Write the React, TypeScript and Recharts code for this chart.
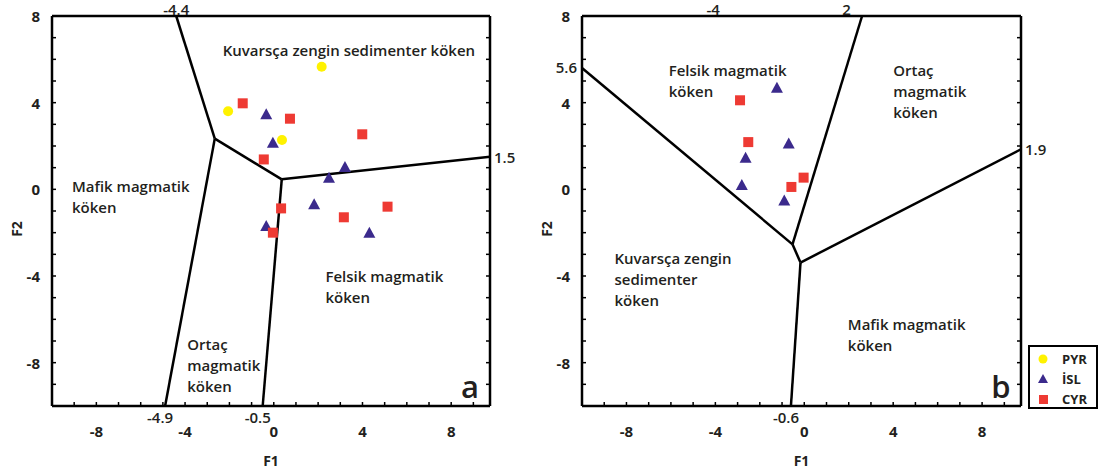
import {
  Legend,
  ReferenceDot,
  ReferenceLine,
  Scatter,
  ScatterChart,
  XAxis,
  YAxis,
} from "recharts";

type Pt = { x: number; y: number };

// discriminant function scores, diagram a
const pyrA: Pt[] = [
  { x: 2.16, y: 5.66 },
  { x: -2.06, y: 3.6 },
  { x: 0.37, y: 2.28 },
];
const islA: Pt[] = [
  { x: -0.34, y: 3.46 },
  { x: -0.04, y: 2.15 },
  { x: 3.21, y: 1.03 },
  { x: 2.49, y: 0.54 },
  { x: 1.82, y: -0.69 },
  { x: -0.34, y: -1.69 },
  { x: 4.31, y: -2.0 },
];
const cyrA: Pt[] = [
  { x: -1.4, y: 3.97 },
  { x: 0.73, y: 3.26 },
  { x: 3.99, y: 2.54 },
  { x: -0.45, y: 1.38 },
  { x: 0.33, y: -0.88 },
  { x: 5.13, y: -0.8 },
  { x: 3.16, y: -1.29 },
  { x: -0.04, y: -2.0 },
];

// diagram b
const islB: Pt[] = [
  { x: -1.23, y: 4.69 },
  { x: -0.7, y: 2.12 },
  { x: -2.64, y: 1.46 },
  { x: -2.81, y: 0.2 },
  { x: -0.9, y: -0.51 },
];
const cyrB: Pt[] = [
  { x: -2.89, y: 4.11 },
  { x: -2.52, y: 2.18 },
  { x: -0.58, y: 0.11 },
  { x: -0.03, y: 0.54 },
];

// field boundaries (edge intercepts and junctions)
const boundsA: [Pt, Pt][] = [
  [{ x: -4.4, y: 8 }, { x: -2.66, y: 2.34 }],
  [{ x: -2.66, y: 2.34 }, { x: -4.9, y: -10 }],
  [{ x: -2.66, y: 2.34 }, { x: 0.36, y: 0.46 }],
  [{ x: 0.36, y: 0.46 }, { x: 9.75, y: 1.5 }],
  [{ x: 0.36, y: 0.46 }, { x: -0.5, y: -10 }],
];
const boundsB: [Pt, Pt][] = [
  [{ x: -10, y: 5.6 }, { x: -0.53, y: -2.54 }],
  [{ x: -0.53, y: -2.54 }, { x: 2.6, y: 8 }],
  [{ x: -0.53, y: -2.54 }, { x: -0.17, y: -3.38 }],
  [{ x: -0.17, y: -3.38 }, { x: 9.75, y: 1.85 }],
  [{ x: -0.17, y: -3.38 }, { x: -0.6, y: -10 }],
];

type Region = { x: number; y: number; lines: string[] };
const regionsA: Region[] = [
  { x: -2.3, y: 6.45, lines: ["Kuvarsça zengin sedimenter köken"] },
  { x: -9.1, y: 0.14, lines: ["Mafik magmatik", "köken"] },
  { x: 2.33, y: -4.0, lines: ["Felsik magmatik", "köken"] },
  { x: -3.9, y: -7.14, lines: ["Ortaç", "magmatik", "köken"] },
];
const regionsB: Region[] = [
  { x: -6.1, y: 5.49, lines: ["Felsik magmatik", "köken"] },
  { x: 4.0, y: 5.49, lines: ["Ortaç", "magmatik", "köken"] },
  { x: -8.54, y: -3.15, lines: ["Kuvarsça zengin", "sedimenter", "köken"] },
  { x: 1.96, y: -6.23, lines: ["Mafik magmatik", "köken"] },
];

type EdgeLabel = { x: number; y: number; text: string; side: "top" | "bottom" | "left" | "right" };
const edgeA: EdgeLabel[] = [
  { x: -4.4, y: 8, text: "-4.4", side: "top" },
  { x: 9.75, y: 1.5, text: "1.5", side: "right" },
  { x: -4.9, y: -10, text: "-4.9", side: "bottom" },
  { x: -0.5, y: -10, text: "-0.5", side: "bottom" },
];
const edgeB: EdgeLabel[] = [
  { x: -4.1, y: 8, text: "-4", side: "top" },
  { x: 1.9, y: 8, text: "2", side: "top" },
  { x: -10, y: 5.65, text: "5.6", side: "left" },
  { x: 9.75, y: 1.85, text: "1.9", side: "right" },
  { x: -0.6, y: -10, text: "-0.6", side: "bottom" },
];

const xTicks = [-10, -9, -8, -7, -6, -5, -4, -3, -2, -1, 0, 1, 2, 3, 4, 5, 6, 7, 8, 9];
const yTicks = [-10, -9, -8, -7, -6, -5, -4, -3, -2, -1, 0, 1, 2, 3, 4, 5, 6, 7, 8];
const labelled = [-8, -4, 0, 4, 8];

const COLORS = { PYR: "#FFF200", ISL: "#3B2A8C", CYR: "#EE3A33" };
const INK = "#231F20";
const FONT = "'Open Sans', 'Noto Sans', sans-serif";

const circle = (p: any) => <circle cx={p.cx} cy={p.cy} r={5} fill={COLORS.PYR} />;
const triangle = (p: any) => (
  <polygon
    points={`${p.cx},${p.cy - 6} ${p.cx - 6},${p.cy + 5} ${p.cx + 6},${p.cy + 5}`}
    fill={COLORS.ISL}
  />
);
const square = (p: any) => <rect x={p.cx - 5} y={p.cy - 5} width={10} height={10} fill={COLORS.CYR} />;

// only every fourth unit carries a number
const tickText = (v: number) => (labelled.includes(v) ? String(v) : "");

const BottomTick = (p: any) => (
  <text x={p.x} y={p.y + 5} textAnchor="middle" dominantBaseline="central" fill={INK} fontSize={15} fontWeight={700}>
    {tickText(p.payload.value)}
  </text>
);
const LeftTick = (p: any) => (
  <text x={p.x} y={p.y} textAnchor="end" dominantBaseline="central" fill={INK} fontSize={15} fontWeight={700}>
    {tickText(p.payload.value)}
  </text>
);

const regionShape = (lines: string[]) => (p: any) => (
  <text x={p.cx} y={p.cy} fill={INK} fontSize={15} fontWeight={600} dominantBaseline="central">
    {lines.map((l, i) => (
      <tspan key={i} x={p.cx} dy={i === 0 ? 0 : 21}>
        {l}
      </tspan>
    ))}
  </text>
);

const edgeShape = (e: EdgeLabel) => (p: any) => {
  let x = p.cx;
  let y = p.cy;
  let anchor: "start" | "middle" | "end" = "middle";
  if (e.side === "top") y -= 7;
  if (e.side === "bottom") {
    // nudged left so it clears the axis tick label underneath
    x -= 5;
    y += 11;
  }
  if (e.side === "right") {
    x += 4;
    anchor = "start";
  }
  if (e.side === "left") {
    x -= 5;
    anchor = "end";
  }
  return (
    <text x={x} y={y} textAnchor={anchor} dominantBaseline="central" fill={INK} fontSize={15} fontWeight={600}>
      {e.text}
    </text>
  );
};

const cornerShape = (letter: string) => (p: any) => (
  <text x={p.cx} y={p.cy} textAnchor="middle" dominantBaseline="central" fill={INK} fontSize={31} fontWeight={600}>
    {letter}
  </text>
);

const xTitle = (p: any) => {
  const vb = p.viewBox;
  return (
    <text x={vb.x + vb.width / 2} y={vb.y + vb.height + 14} textAnchor="middle" dominantBaseline="central" fill={INK} fontSize={14} fontWeight={700}>
      F1
    </text>
  );
};
const yTitle = (p: any) => {
  const vb = p.viewBox;
  const x = vb.x + vb.width - 36;
  const y = vb.y + vb.height / 2 + 18;
  return (
    <text x={x} y={y} transform={`rotate(-90, ${x}, ${y})`} textAnchor="middle" dominantBaseline="central" fill={INK} fontSize={14} fontWeight={700}>
      F2
    </text>
  );
};

const legendItems = [
  { name: "PYR", shape: "circle" },
  { name: "İSL", shape: "triangle" },
  { name: "CYR", shape: "square" },
];

const LegendBox = () => (
  <div
    style={{
      width: 70,
      height: 64,
      boxSizing: "border-box",
      border: "2px solid #000",
      background: "#fff",
      padding: "2px 0 0 0",
      fontFamily: FONT,
    }}
  >
    {legendItems.map((it) => (
      <div key={it.name} style={{ display: "flex", alignItems: "center", height: 20 }}>
        <svg width={26} height={20}>
          {it.shape === "circle" && <circle cx={13} cy={10} r={4.5} fill={COLORS.PYR} />}
          {it.shape === "triangle" && <polygon points="13,5 8,14 18,14" fill={COLORS.ISL} />}
          {it.shape === "square" && <rect x={9} y={6} width={9} height={9} fill={COLORS.CYR} />}
        </svg>
        <span style={{ marginLeft: 6, fontSize: 13, fontWeight: 700, color: INK }}>{it.name}</span>
      </div>
    ))}
  </div>
);

type PanelProps = {
  left: number;
  width: number;
  margin: { top: number; right: number; bottom: number; left: number };
  yAxisWidth: number;
  letter: string;
  pyr: Pt[];
  isl: Pt[];
  cyr: Pt[];
  bounds: [Pt, Pt][];
  regions: Region[];
  edges: EdgeLabel[];
  legendLeft?: number;
};

function Panel(props: PanelProps) {
  const { left, width, margin, yAxisWidth, letter, pyr, isl, cyr, bounds, regions, edges, legendLeft } = props;
  const axisLine = { stroke: "#000", strokeWidth: 2.5 };
  const tickLine = { stroke: "#000", strokeWidth: 1.5 };
  return (
    <div style={{ position: "absolute", left, top: 0 }}>
      <ScatterChart width={width} height={474} margin={margin}>
        <XAxis
          dataKey="x"
          type="number"
          domain={[-10, 9.75]}
          allowDataOverflow
          ticks={xTicks}
          interval={0}
          tick={BottomTick}
          tickSize={-4}
          tickMargin={24}
          axisLine={axisLine}
          tickLine={tickLine}
          height={40}
          label={{ content: xTitle }}
        />
        <XAxis
          xAxisId="top"
          orientation="top"
          type="number"
          domain={[-10, 9.75]}
          allowDataOverflow
          ticks={xTicks}
          interval={0}
          tickFormatter={() => ""}
          tickSize={-4}
          axisLine={axisLine}
          tickLine={tickLine}
          height={1}
        />
        <YAxis
          dataKey="y"
          type="number"
          domain={[-10, 8]}
          allowDataOverflow
          ticks={yTicks}
          interval={0}
          tick={LeftTick}
          tickSize={-4}
          tickMargin={16}
          axisLine={axisLine}
          tickLine={tickLine}
          width={yAxisWidth}
          label={{ content: yTitle }}
        />
        <YAxis
          yAxisId="right"
          orientation="right"
          type="number"
          domain={[-10, 8]}
          allowDataOverflow
          ticks={yTicks}
          interval={0}
          tickFormatter={() => ""}
          tickSize={-4}
          axisLine={axisLine}
          tickLine={tickLine}
          width={1}
        />
        {bounds.map((seg, i) => (
          <ReferenceLine key={`b${i}`} segment={seg} stroke="#000" strokeWidth={2.5} ifOverflow="visible" />
        ))}
        {regions.map((r, i) => (
          <ReferenceDot key={`r${i}`} x={r.x} y={r.y} r={0} ifOverflow="visible" shape={regionShape(r.lines)} />
        ))}
        {edges.map((e, i) => (
          <ReferenceDot key={`e${i}`} x={e.x} y={e.y} r={0} ifOverflow="visible" shape={edgeShape(e)} />
        ))}
        <ReferenceDot x={8.85} y={-9.08} r={0} ifOverflow="visible" shape={cornerShape(letter)} />
        {pyr.length > 0 && <Scatter name="PYR" data={pyr} shape={circle} isAnimationActive={false} />}
        <Scatter name="İSL" data={isl} shape={triangle} isAnimationActive={false} />
        <Scatter name="CYR" data={cyr} shape={square} isAnimationActive={false} />
        {legendLeft !== undefined && (
          <Legend
            layout="vertical"
            align="center"
            verticalAlign="middle"
            content={() => <LegendBox />}
            wrapperStyle={{ left: legendLeft, top: 345, width: 70, height: 64 }}
          />
        )}
      </ScatterChart>
    </div>
  );
}

export default function App() {
  return (
    <div
      style={{
        position: "absolute",
        left: 0,
        top: 0,
        width: 1103,
        height: 474,
        background: "#fff",
        fontFamily: FONT,
      }}
    >
      <Panel
        left={0}
        width={520}
        margin={{ top: 15, right: 29, bottom: 28, left: 12 }}
        yAxisWidth={40}
        letter="a"
        pyr={pyrA}
        isl={islA}
        cyr={cyrA}
        bounds={boundsA}
        regions={regionsA}
        edges={edgeA}
      />
      <Panel
        left={520}
        width={583}
        margin={{ top: 15, right: 81, bottom: 28, left: 12 }}
        yAxisWidth={50}
        letter="b"
        pyr={[]}
        isl={islB}
        cyr={cyrB}
        bounds={boundsB}
        regions={regionsB}
        edges={edgeB}
        legendLeft={508}
      />
    </div>
  );
}
